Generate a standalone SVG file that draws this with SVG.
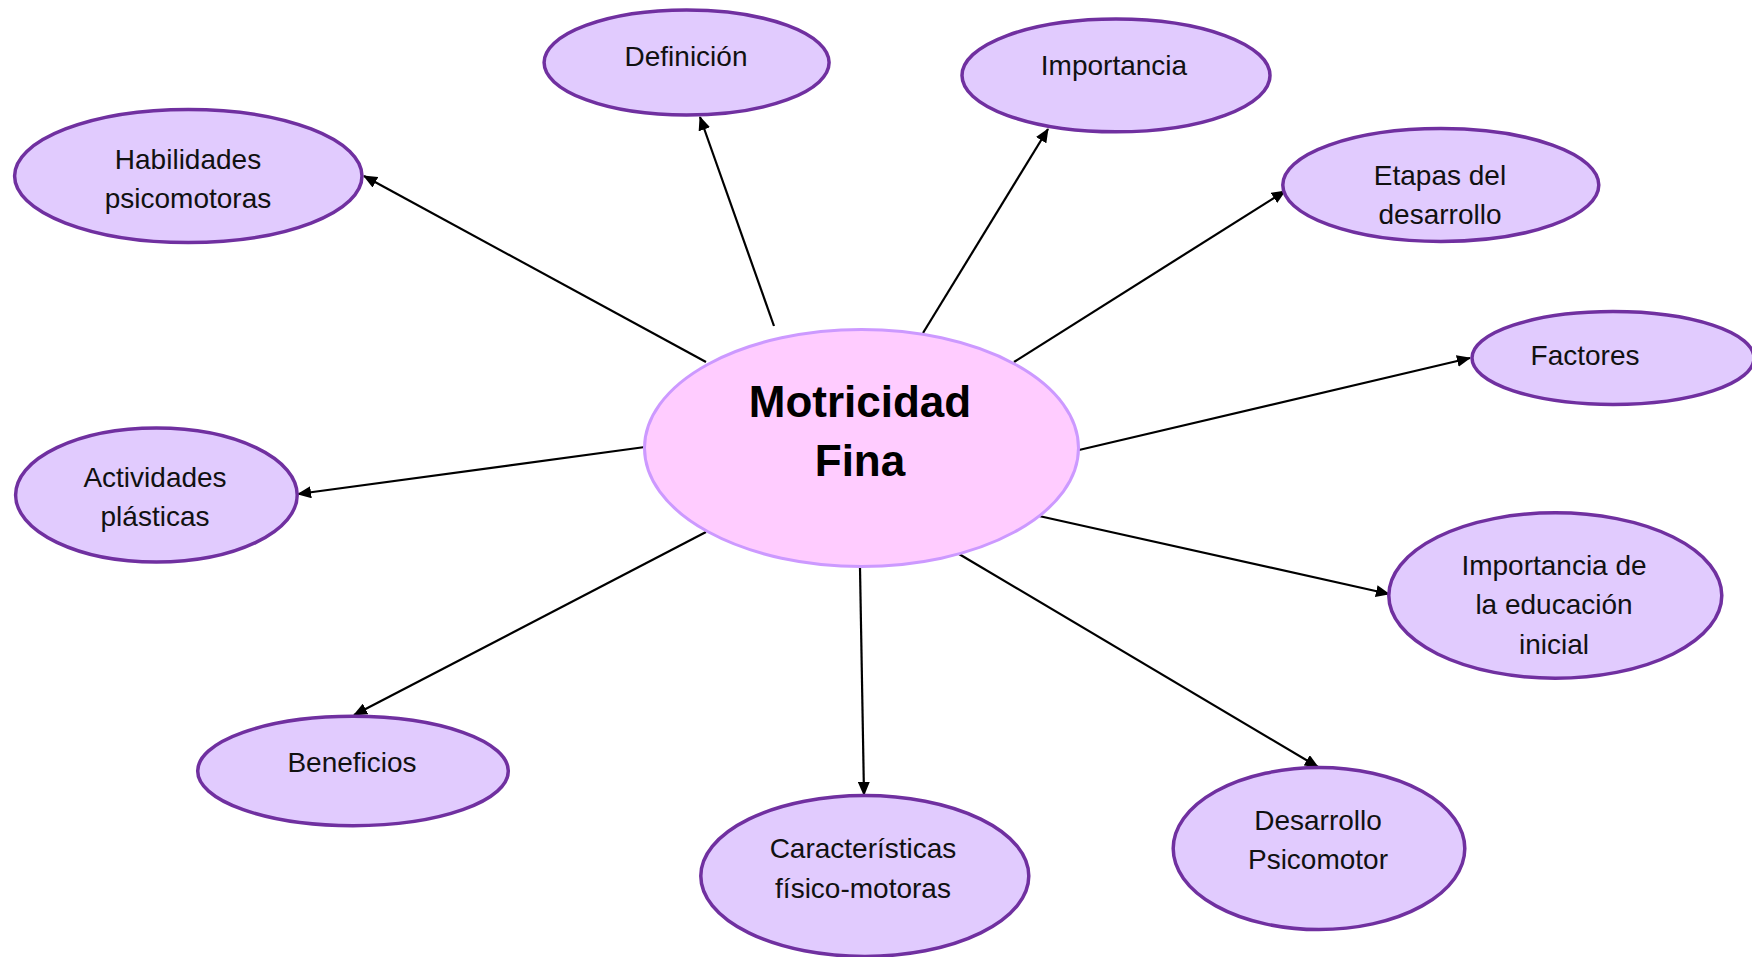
<svg xmlns="http://www.w3.org/2000/svg" width="1752" height="957" viewBox="0 0 1752 957">
<style>
.node ellipse{fill:#E1CBFE;stroke:#7030A0;stroke-width:3.5}
.node text{font-family:"Liberation Sans",Arial,sans-serif;font-size:28px;fill:#111;text-anchor:middle}
#center ellipse{fill:#FFCCFF;stroke:#CC99FF;stroke-width:3}
#center text{font-family:"Liberation Sans",Arial,sans-serif;font-size:44px;font-weight:bold;fill:#000;text-anchor:middle}
#connectors line{stroke:#000;stroke-width:2.2;marker-end:url(#arr)}
</style>
<defs>
<marker id="arr" viewBox="0 0 14 12" refX="13" refY="6" markerWidth="6.4" markerHeight="5.5" orient="auto" markerUnits="strokeWidth">
<path d="M0,0 L14,6 L0,12 z" fill="#000"/>
</marker>
</defs>
<rect width="1752" height="957" fill="#fff"/>
<g id="connectors">
<line x1="706" y1="362" x2="364" y2="176"/>
<line x1="774" y1="326" x2="700" y2="117"/>
<line x1="923" y1="333" x2="1048" y2="129"/>
<line x1="1014" y1="362" x2="1285" y2="191"/>
<line x1="1079" y1="450" x2="1470" y2="358"/>
<line x1="1039" y1="516" x2="1389" y2="594"/>
<line x1="959" y1="554" x2="1318" y2="767"/>
<line x1="860" y1="568" x2="864" y2="795"/>
<line x1="706" y1="532" x2="354" y2="715"/>
<line x1="645" y1="447" x2="298" y2="494"/>
</g>
<g id="center">
<ellipse cx="861.5" cy="448" rx="217" ry="118.5"/>
<text x="860" y="417">Motricidad</text>
<text x="860" y="476">Fina</text>
</g>
<g id="definicion" class="node">
<ellipse cx="686.6" cy="62.6" rx="142.5" ry="52.5"/>
<text x="686" y="66">Definición</text>
</g>
<g id="importancia" class="node">
<ellipse cx="1116" cy="75.4" rx="154" ry="56.4"/>
<text x="1114" y="75">Importancia</text>
</g>
<g id="etapas" class="node">
<ellipse cx="1440.8" cy="185" rx="158" ry="56.4"/>
<text x="1440" y="185">Etapas del</text>
<text x="1440" y="224">desarrollo</text>
</g>
<g id="habilidades" class="node">
<ellipse cx="188.3" cy="176" rx="173.7" ry="66.5"/>
<text x="188" y="169">Habilidades</text>
<text x="188" y="208">psicomotoras</text>
</g>
<g id="factores" class="node">
<ellipse cx="1613" cy="358" rx="141" ry="46.4"/>
<text x="1585" y="365">Factores</text>
</g>
<g id="actividades" class="node">
<ellipse cx="156.4" cy="495" rx="140.8" ry="67"/>
<text x="155" y="487">Actividades</text>
<text x="155" y="526">plásticas</text>
</g>
<g id="educacion" class="node">
<ellipse cx="1555.3" cy="595.5" rx="166.5" ry="82.7"/>
<text x="1554" y="575">Importancia de</text>
<text x="1554" y="614">la educación</text>
<text x="1554" y="654">inicial</text>
</g>
<g id="beneficios" class="node">
<ellipse cx="353" cy="771" rx="155.3" ry="54.7"/>
<text x="352" y="772">Beneficios</text>
</g>
<g id="caracteristicas" class="node">
<ellipse cx="864.8" cy="876" rx="164" ry="80.4"/>
<text x="863" y="858">Características</text>
<text x="863" y="898">físico-motoras</text>
</g>
<g id="desarrollo" class="node">
<ellipse cx="1319" cy="848.6" rx="145.8" ry="81"/>
<text x="1318" y="830">Desarrollo</text>
<text x="1318" y="869">Psicomotor</text>
</g>
</svg>
